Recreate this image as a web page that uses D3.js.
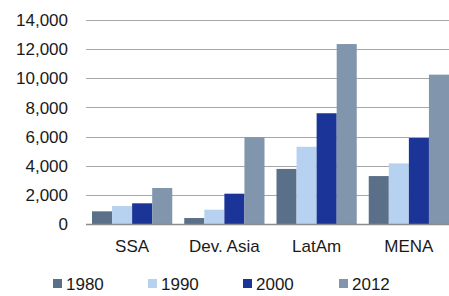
<!DOCTYPE html>
<html><head><meta charset="utf-8">
<script src="https://cdn.jsdelivr.net/npm/d3@7"></script>
<style>body{margin:0;background:#fff}svg{display:block}text{font-family:"Liberation Sans",Arial,sans-serif;fill:#1a1a1a}</style>
</head><body>
<script>
const categories = ["SSA", "Dev. Asia", "LatAm", "MENA"];
const seriesNames = ["1980", "1990", "2000", "2012"];
const v1980 = [870, 410, 3780, 3290];
const v1990 = [1230, 980, 5300, 4160];
const v2000 = [1420, 2080, 7600, 5900];
const v2012 = [2470, 5950, 12350, 10250];
const yTicks = [0, 2000, 4000, 6000, 8000, 10000, 12000, 14000];
const colors = ["#5a7088", "#b6d2f0", "#1b3497", "#8196ad"];
const seriesValues = [v1980, v1990, v2000, v2012];

const W = 449, H = 296;
const svg = d3.select("body").append("svg").attr("width", W).attr("height", H);
const y = d3.scaleLinear().domain([0, 14000]).range([224, 20]);
const x0 = d3.scaleBand().domain(categories).range([86, 455]).paddingInner(0.13).paddingOuter(0.065);
const x1 = d3.scaleBand().domain(seriesNames).range([0, x0.bandwidth()]);

// gridlines
svg.append("g").selectAll("line").data(yTicks.filter(d => d > 0)).join("line")
  .attr("x1", 86).attr("x2", W).attr("y1", d => Math.round(y(d)) + 0.5).attr("y2", d => Math.round(y(d)) + 0.5)
  .attr("stroke", "#a6a6a6").attr("stroke-width", 1);

// y axis labels
const fmt = d3.format(",");
svg.append("g").selectAll("text").data(yTicks).join("text")
  .attr("x", 68).attr("y", d => y(d)).attr("dy", "0.36em").attr("text-anchor", "end")
  .attr("font-size", 17).text(d => fmt(d));

// bars
const groups = svg.append("g").selectAll("g").data(categories).join("g")
  .attr("transform", c => `translate(${x0(c)},0)`);
groups.selectAll("rect").data((c, i) => seriesNames.map((s, j) => ({s, v: seriesValues[j][i], j})))
  .join("rect")
  .attr("x", d => x1(d.s)).attr("width", x1.bandwidth())
  .attr("y", d => y(d.v)).attr("height", d => y(0) - y(d.v))
  .attr("fill", d => colors[d.j]);

// baseline
svg.append("line").attr("x1", 86).attr("x2", W).attr("y1", 224.5).attr("y2", 224.5)
  .attr("stroke", "#8c8c8c").attr("stroke-width", 1.5);

// category labels
svg.append("g").selectAll("text").data(categories).join("text")
  .attr("x", c => x0(c) + x0.bandwidth() / 2).attr("y", 252).attr("text-anchor", "middle")
  .attr("font-size", 17).text(c => c);

// legend
const legX = [53, 148, 243, 339];
const leg = svg.append("g").selectAll("g").data(seriesNames).join("g")
  .attr("transform", (d, i) => `translate(${legX[i]},279)`);
leg.append("rect").attr("width", 9).attr("height", 9).attr("fill", (d, i) => colors[i]);
leg.append("text").attr("x", 13).attr("y", 4.5).attr("dy", "0.36em").attr("font-size", 17).text(d => d);
</script>
</body></html>
